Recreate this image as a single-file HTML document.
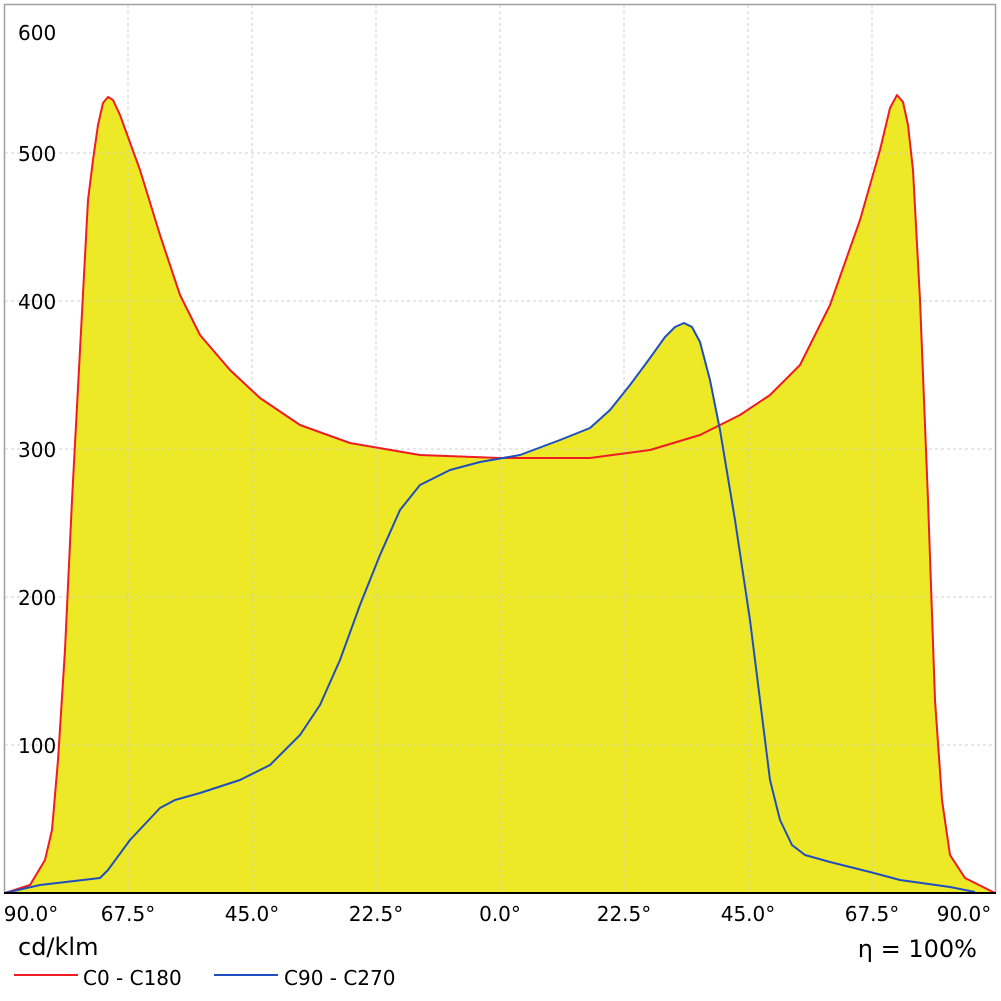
<!DOCTYPE html>
<html><head><meta charset="utf-8"><style>
html,body{margin:0;padding:0;background:#fff;}
svg{display:block;font-family:"DejaVu Sans","Liberation Sans",sans-serif;}
</style></head><body>
<svg width="1001" height="1001" viewBox="0 0 1001 1001" xmlns="http://www.w3.org/2000/svg">
<rect x="0" y="0" width="1001" height="1001" fill="#fff"/>
<rect x="4.5" y="4.5" width="991" height="888" fill="none" stroke="#a0a0a0" stroke-width="1.5"/>
<g fill="#eee926" stroke="none">
<path d="M5,893 L30,885 L45,860 L52,830 L58,760 L65,650 L72,500 L80,350 L88,200 L93,160 L98,125 L103,103 L108,97 L113,100 L120,115 L140,170 L160,235 L180,295 L200,335 L230,370 L260,398 L300,425 L350,443 L420,455 L500,458 L590,458 L650,450 L700,435 L740,415 L770,395 L800,365 L830,305 L860,220 L880,150 L890,108 L897,95 L903,102 L908,125 L913,170 L920,300 L928,500 L935,700 L942,800 L950,855 L965,878 L985,888 L995,893 Z"/>
<path d="M5,893 L40,885 L100,878 L108,870 L130,840 L160,808 L175,800 L200,793 L240,780 L270,765 L300,735 L320,705 L340,660 L360,605 L380,555 L400,510 L420,485 L450,470 L480,462 L520,455 L560,440 L590,428 L610,410 L630,385 L650,358 L665,337 L675,327 L684,323 L692,327 L700,342 L710,380 L720,430 L735,520 L750,620 L760,700 L770,780 L780,820 L792,845 L805,855 L830,862 L870,872 L900,880 L950,887 L975,892 Z"/>
</g>
<g stroke="#cfcfcf" stroke-width="1" stroke-dasharray="3,3">
<line x1="128" y1="5" x2="128" y2="893"/><line x1="252" y1="5" x2="252" y2="893"/>
<line x1="376" y1="5" x2="376" y2="893"/><line x1="500" y1="5" x2="500" y2="893"/>
<line x1="624" y1="5" x2="624" y2="893"/><line x1="748" y1="5" x2="748" y2="893"/>
<line x1="872" y1="5" x2="872" y2="893"/>
<line x1="5" y1="153" x2="995" y2="153"/><line x1="5" y1="301" x2="995" y2="301"/>
<line x1="5" y1="449" x2="995" y2="449"/><line x1="5" y1="597" x2="995" y2="597"/>
<line x1="5" y1="745" x2="995" y2="745"/>
</g>
<g fill="none" stroke-width="2" stroke-linejoin="round">
<polyline stroke="#ee1c25" points="5,893 30,885 45,860 52,830 58,760 65,650 72,500 80,350 88,200 93,160 98,125 103,103 108,97 113,100 120,115 140,170 160,235 180,295 200,335 230,370 260,398 300,425 350,443 420,455 500,458 590,458 650,450 700,435 740,415 770,395 800,365 830,305 860,220 880,150 890,108 897,95 903,102 908,125 913,170 920,300 928,500 935,700 942,800 950,855 965,878 985,888 995,893"/>
<polyline stroke="#1f4fbf" points="5,893 40,885 100,878 108,870 130,840 160,808 175,800 200,793 240,780 270,765 300,735 320,705 340,660 360,605 380,555 400,510 420,485 450,470 480,462 520,455 560,440 590,428 610,410 630,385 650,358 665,337 675,327 684,323 692,327 700,342 710,380 720,430 735,520 750,620 760,700 770,780 780,820 792,845 805,855 830,862 870,872 900,880 950,887 975,892"/>
</g>
<line x1="4" y1="893" x2="996" y2="893" stroke="#000" stroke-width="2"/>
<g font-size="20" fill="#000">
<text x="18" y="40">600</text><text x="18" y="161">500</text><text x="18" y="309">400</text>
<text x="18" y="457">300</text><text x="18" y="605">200</text><text x="18" y="753">100</text>
<text x="31" y="921" text-anchor="middle">90.0°</text><text x="128" y="921" text-anchor="middle">67.5°</text>
<text x="252" y="921" text-anchor="middle">45.0°</text><text x="376" y="921" text-anchor="middle">22.5°</text>
<text x="500" y="921" text-anchor="middle">0.0°</text><text x="624" y="921" text-anchor="middle">22.5°</text>
<text x="748" y="921" text-anchor="middle">45.0°</text><text x="872" y="921" text-anchor="middle">67.5°</text>
<text x="964" y="921" text-anchor="middle">90.0°</text>
<text x="18" y="955" font-size="24">cd/klm</text>
<text x="977" y="957" font-size="24" text-anchor="end">η = 100%</text>
<text x="83" y="985">C0 - C180</text><text x="284" y="985">C90 - C270</text>
</g>
<line x1="14" y1="975" x2="78" y2="975" stroke="#ee1c25" stroke-width="2"/>
<line x1="214" y1="975" x2="278" y2="975" stroke="#1f4fbf" stroke-width="2"/>
</svg>
</body></html>
